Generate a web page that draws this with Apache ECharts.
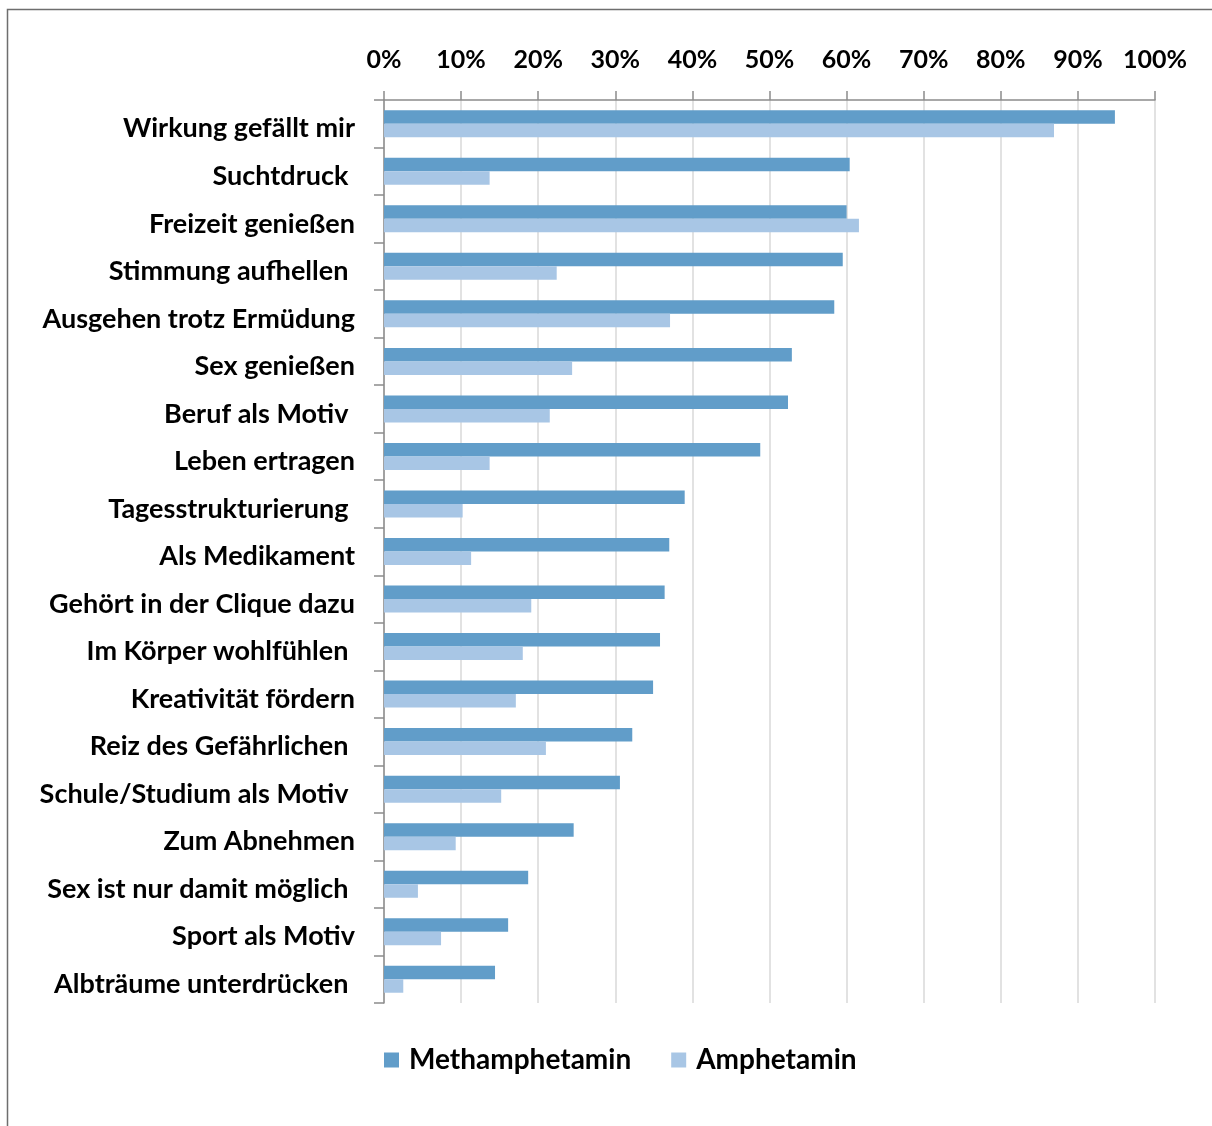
<!DOCTYPE html>
<html lang="de" style="height: 100%">
<head>
  <meta charset="utf-8">
</head>
<body style="height: 100%; margin: 0; background: #fff">
  <div id="container" style="width: 1212px; height: 1126px"></div>

  <script type="text/javascript" src="https://cdn.jsdelivr.net/npm/echarts@6/dist/echarts.min.js"></script>
  <script type="text/javascript">
    // categories top to bottom (trailing spaces as in the source sheet)
    var categories = [
      'Wirkung gefällt mir', 'Suchtdruck ', 'Freizeit genießen', 'Stimmung aufhellen ',
      'Ausgehen trotz Ermüdung', 'Sex genießen', 'Beruf als Motiv ', 'Leben ertragen',
      'Tagesstrukturierung ', 'Als Medikament', 'Gehört in der Clique dazu', 'Im Körper wohlfühlen ',
      'Kreativität fördern', 'Reiz des Gefährlichen ', 'Schule/Studium als Motiv ', 'Zum Abnehmen',
      'Sex ist nur damit möglich ', 'Sport als Motiv', 'Albträume unterdrücken '
    ];
    var methamphetamin = [94.8, 60.4, 60.0, 59.5, 58.4, 52.9, 52.4, 48.8, 39.0, 37.0,
      36.4, 35.8, 34.9, 32.2, 30.6, 24.6, 18.7, 16.1, 14.4];
    var amphetamin = [86.9, 13.7, 61.6, 22.4, 37.1, 24.4, 21.5, 13.7, 10.2, 11.3,
      19.1, 18.0, 17.1, 21.0, 15.2, 9.3, 4.4, 7.4, 2.5];

    var dom = document.getElementById('container');
    var myChart = echarts.init(dom, null, { renderer: 'canvas' });
    var font = 'Lato';

    var option = {
      backgroundColor: '#fff',
      animation: false,
      graphic: [
        {
          type: 'rect',
          shape: { x: 7.5, y: 9.5, width: 1300, height: 1200 },
          style: { fill: 'none', stroke: '#6e6e6e', lineWidth: 1.5 }
        }
      ],
      grid: { left: 384, right: 57, top: 100, bottom: 123 },
      legend: {
        top: 1046,
        left: 384,
        padding: 0,
        itemWidth: 15,
        itemHeight: 15,
        itemGap: 40,
        icon: 'rect',
        textStyle: {
          fontFamily: font, fontWeight: 'bold', fontSize: 28, color: '#000',
          padding: [0, 0, 0, 5]
        },
        data: ['Methamphetamin', 'Amphetamin']
      },
      xAxis: {
        type: 'value',
        position: 'top',
        min: 0,
        max: 100,
        interval: 10,
        axisLine: { show: true, lineStyle: { color: '#8c8c8c', width: 1.5 } },
        axisTick: { show: true, length: 9, lineStyle: { color: '#8c8c8c', width: 1.5 } },
        splitLine: { show: true, lineStyle: { color: '#d9d9d9', width: 1.5 } },
        axisLabel: {
          formatter: '{value}%',
          margin: 28,
          color: '#000',
          fontFamily: font,
          fontWeight: 'bold',
          fontSize: 25
        }
      },
      yAxis: {
        type: 'category',
        inverse: true,
        data: categories,
        axisLine: { show: true, lineStyle: { color: '#8c8c8c', width: 1.5 } },
        axisTick: { show: true, length: 10, lineStyle: { color: '#8c8c8c', width: 1.5 } },
        axisLabel: {
          margin: 29,
          formatter: function (v) { return '{c|' + v + '}'; },
          rich: {
            c: {
              padding: [10, 0, 0, 0],
              color: '#000',
              fontFamily: font,
              fontWeight: 'bold',
              fontSize: 27
            }
          }
        }
      },
      series: [
        {
          name: 'Methamphetamin',
          type: 'bar',
          data: methamphetamin,
          barWidth: 13.5,
          barGap: '0%',
          itemStyle: { color: '#619dc9' }
        },
        {
          name: 'Amphetamin',
          type: 'bar',
          data: amphetamin,
          barWidth: 13.5,
          barGap: '0%',
          itemStyle: { color: '#a8c6e5' }
        }
      ]
    };

    myChart.setOption(option);
    window.addEventListener('resize', myChart.resize);
  </script>
</body>
</html>
